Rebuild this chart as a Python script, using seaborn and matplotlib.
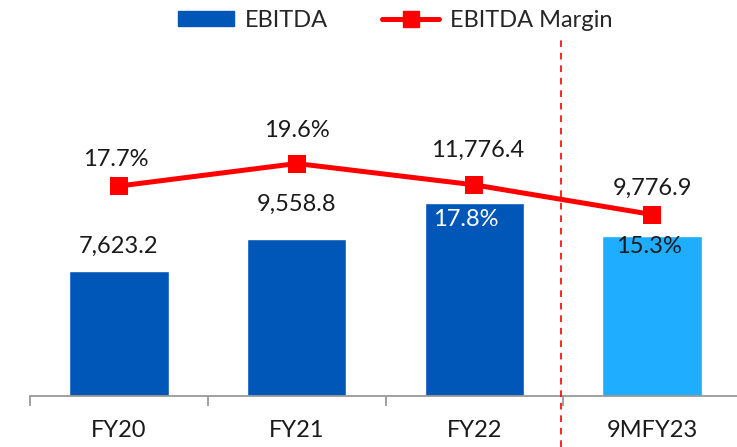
import matplotlib
matplotlib.use("Agg")
from matplotlib import pyplot as plt
from matplotlib.lines import Line2D
from matplotlib.patches import Patch
import numpy as np
import pandas as pd
import seaborn as sns

# Data
categories = ["FY20", "FY21", "FY22", "9MFY23"]
ebitda = [7623.2, 9558.8, 11776.4, 9776.9]
margin = [17.7, 19.6, 17.8, 15.3]
ebitda_labels = ["7,623.2", "9,558.8", "11,776.4", "9,776.9"]
margin_labels = ["17.7%", "19.6%", "17.8%", "15.3%"]

bar_colors = ["#0057B8", "#0057B8", "#0057B8", "#1FAEFF"]
red = "#FF0000"

sns.set_style("white")
plt.rcParams['font.family'] = ['Lato', 'DejaVu Sans']
fs = 17

df = pd.DataFrame({"cat": categories, "ebitda": ebitda, "margin": margin})

fig = plt.figure(figsize=(7.37, 4.47), dpi=100)
ax = fig.add_axes([30 / 737, 51 / 447, 711 / 737, 360 / 447])

sns.barplot(data=df, x="cat", y="ebitda", hue="cat", palette=bar_colors,
            legend=False, width=0.56, ax=ax, saturation=1)
ax.set_xlim(-0.5, 3.5)
ax.set_ylim(0, 21950)

ax2 = ax.twinx()
pos = np.arange(len(categories))
sns.lineplot(x=pos, y=df["margin"], ax=ax2, color=red, linewidth=3.6,
             marker="s", markersize=13, markeredgewidth=0)
ax2.set_ylim(0, 30.35)
ax2.set_xlim(-0.5, 3.5)

# labels for bars (offsets in points)
bar_off = [(0, 18), (0, 25), (2, 38), (0, 34)]
for i, (v, lab) in enumerate(zip(ebitda, ebitda_labels)):
    ax2.annotate(lab, xy=(i, v * 30.35 / 21950), xytext=bar_off[i],
                 textcoords="offset points", ha="center", va="center",
                 fontsize=fs, color="#1a1a1a")

m_off = [(-2, 19), (0, 24), (-6, -25), (-2, -23)]
m_col = ["#1a1a1a", "#1a1a1a", "white", "#1a1a1a"]
for i, (v, lab) in enumerate(zip(margin, margin_labels)):
    ax2.annotate(lab, xy=(i, v), xytext=m_off[i], textcoords="offset points",
                 ha="center", va="center", fontsize=fs, color=m_col[i])

# dashed separator
ax2.axvline(2.49, ymin=-0.142, ymax=1.0, color=red, linestyle=(0, (4, 3.5)),
            linewidth=1.2, clip_on=False)

for a in (ax, ax2):
    for s in ["top", "right", "left"]:
        a.spines[s].set_visible(False)
    a.set_yticks([])
    a.set_ylabel("")
ax2.spines["bottom"].set_visible(False)
ax2.set_xticks([])
ax.spines["bottom"].set_color("#999999")
ax.spines["bottom"].set_linewidth(1.3)
ax.set_xlabel("")
ax.set_xticks(pos)
ax.set_xticklabels(categories, fontsize=fs, color="#1a1a1a")
ax.set_xticks([-0.5, 0.5, 1.5, 2.5], minor=True)
ax.tick_params(axis="x", which="major", length=0, pad=17)
ax.tick_params(axis="x", which="minor", length=7, width=1.3, color="#999999",
               direction="out", bottom=True)

handles = [Patch(color="#0057B8", label="EBITDA"),
           Line2D([0], [0], color=red, linewidth=3.6, marker="s",
                  markersize=11, label="EBITDA Margin")]
fig.legend(handles=handles, loc="upper center", bbox_to_anchor=(395 / 737, 1.025),
           ncol=2, frameon=False, fontsize=fs, handlelength=2.4,
           handleheight=0.6, columnspacing=2.3, handletextpad=0.45)

plt.savefig("out.png", dpi=100)
